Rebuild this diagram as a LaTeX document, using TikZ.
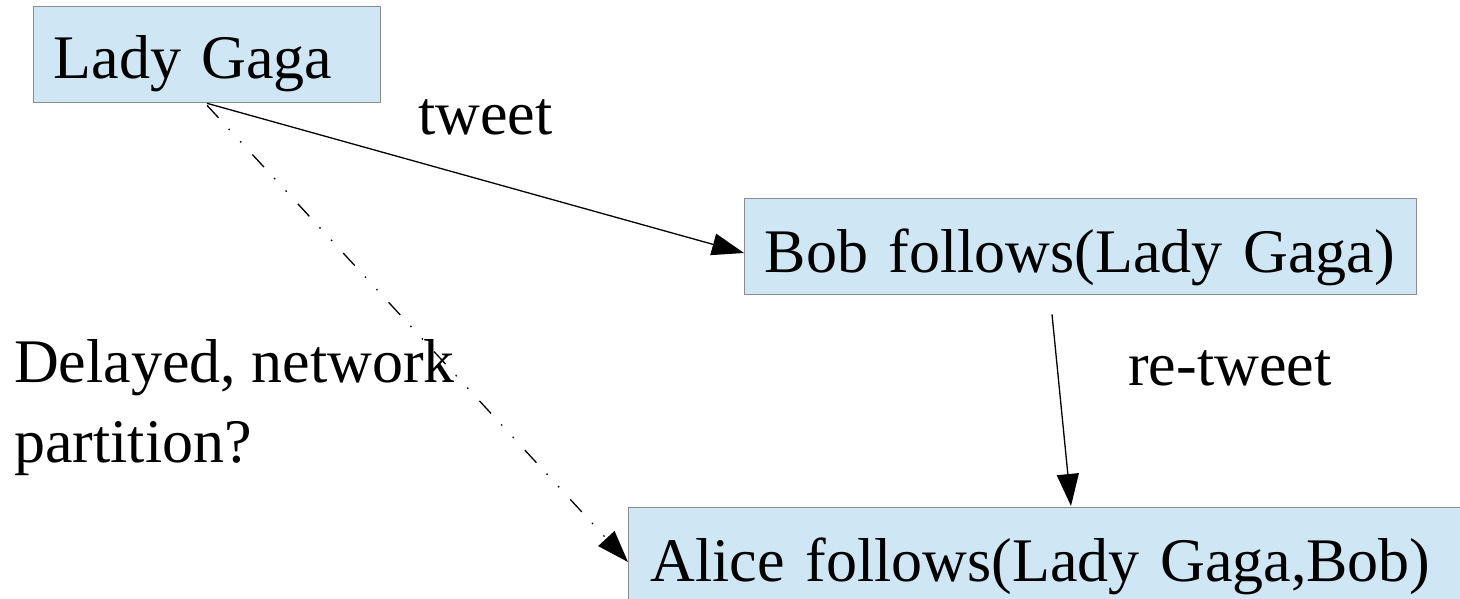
\documentclass[tikz,border=0pt]{standalone}
\usepackage{fontspec}
\setmainfont{Liberation Serif}
\usetikzlibrary{arrows.meta,calc}
\definecolor{boxfill}{HTML}{CFE7F5}
\definecolor{boxline}{HTML}{8C8C8C}
\tikzset{
  entity/.style={draw=boxline, fill=boxfill, line width=1.3pt, anchor=north west,
    inner ysep=0pt, align=left},
  caption/.style={anchor=base west, inner sep=0pt, align=left},
  flow/.style={line width=1.3pt, -{Triangle[length=32pt,width=22pt]}},
  lagged/.style={flow, dash pattern=on 17pt off 15pt on 1.5pt off 15.5pt on 1.5pt off 16.5pt}
}
\begin{document}
\begin{tikzpicture}[x=1pt, y=-1pt, font=\fontsize{62}{80}\selectfont]
  \useasboundingbox (0,0) rectangle (1460,599);
  \clip (0,0) rectangle (1460,599);

  % accounts
  \node[entity, inner xsep=20pt, text width=307pt, text height=72pt, text depth=24pt]
    (gaga) at (33,6) {Lady Gaga};
  \node[entity, inner xsep=20pt, text width=632pt, text height=74pt, text depth=22pt]
    (bob) at (744,198) {Bob follows(Lady Gaga)};
  \node[entity, inner xsep=22pt, text width=820pt, text height=74pt, text depth=30pt]
    (alice) at (628,507) {Alice follows(Lady Gaga,Bob)};

  % labels (the two-line caption is placed by its last baseline)
  \node[caption] (tweet) at (418,135) {tweet};
  \node[caption] (retweet) at (1128,385) {re-tweet};
  \node[caption] (delay) at (14,462) {Delayed, network\\partition?};

  % message paths
  \draw[flow] ($(gaga.south west)+(174,0)$) -- ($(bob.north west)+(0,55)$);
  \draw[flow] ($(bob.south west)+(308,19)$) -- ($(alice.north west)+(443,-1)$);
  \draw[lagged] ($(gaga.south west)+(174,2)$) -- ($(alice.north west)+(0,55)$);
\end{tikzpicture}
\end{document}
